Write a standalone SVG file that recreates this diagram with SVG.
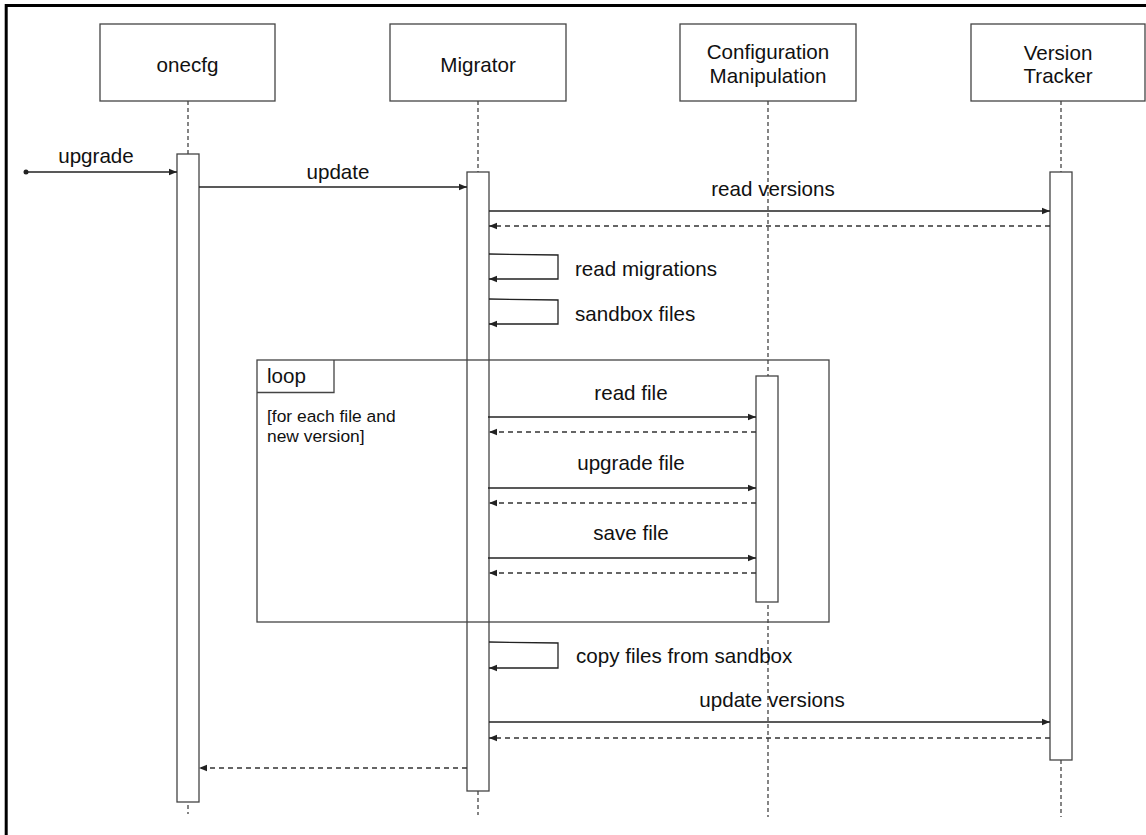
<svg xmlns="http://www.w3.org/2000/svg" width="1146" height="835" viewBox="0 0 1146 835">
  <style>
    .box { fill: #fff; stroke: #444; stroke-width: 1.3; }
    .bar { fill: #fff; stroke: #444; stroke-width: 1.3; }
    .life { stroke: #444; stroke-width: 1.3; stroke-dasharray: 4 3; fill: none; }
    .msg { stroke: #222; stroke-width: 1.3; fill: none; }
    .ret { stroke: #333; stroke-width: 1.3; stroke-dasharray: 5 4; fill: none; }
    .frame { fill: none; stroke: #444; stroke-width: 1.3; }
    text { font-family: "Liberation Sans", Arial, sans-serif; fill: #111; }
    .t20 { font-size: 20.6px; }
    .t17 { font-size: 17.4px; }
    .mid { text-anchor: middle; }
  </style>
  <defs>
    <marker id="ah" viewBox="0 0 10 10" refX="10" refY="5" markerWidth="8" markerHeight="8" markerUnits="userSpaceOnUse" orient="auto">
      <path d="M0,1 L10,5 L0,9 z" fill="#222"/>
    </marker>
  </defs>

  <rect width="1146" height="835" fill="#fff"/>
  <!-- outer border (open at the bottom and right) -->
  <path d="M6.2,835 V5.5 H1146" fill="none" stroke="#000" stroke-width="3"/>

  <!-- lifelines -->
  <g id="lifelines">
    <line class="life" x1="188" y1="101" x2="188" y2="154"/>
    <line class="life" x1="188" y1="805" x2="188" y2="814"/>
    <line class="life" x1="478" y1="101" x2="478" y2="172"/>
    <line class="life" x1="478" y1="791" x2="478" y2="815"/>
    <line class="life" x1="768" y1="101" x2="768" y2="817"/>
    <line class="life" x1="1061" y1="101" x2="1061" y2="172"/>
    <line class="life" x1="1061" y1="760" x2="1061" y2="817"/>
  </g>

  <!-- participants -->
  <g id="onecfg">
    <rect class="box" x="100" y="24" width="175" height="77"/>
    <text class="t20 mid" x="187.5" y="72">onecfg</text>
    <rect class="bar" x="177" y="154" width="22" height="648"/>
  </g>
  <g id="migrator">
    <rect class="box" x="390" y="24" width="176" height="77"/>
    <text class="t20 mid" x="478" y="72">Migrator</text>
    <rect class="bar" x="467" y="172" width="22" height="619"/>
  </g>
  <g id="config-manipulation">
    <rect class="box" x="680" y="24" width="176" height="77"/>
    <text class="t20 mid" x="768" y="59">Configuration</text>
    <text class="t20 mid" x="768" y="83">Manipulation</text>
    <rect class="bar" x="756" y="376" width="22" height="226"/>
  </g>
  <g id="version-tracker">
    <rect class="box" x="971" y="24" width="174" height="77"/>
    <text class="t20 mid" x="1058" y="60">Version</text>
    <text class="t20 mid" x="1058" y="83">Tracker</text>
    <rect class="bar" x="1050" y="172" width="22" height="588"/>
  </g>

  <!-- loop fragment -->
  <g id="loop">
    <rect class="frame" x="257" y="360" width="572" height="262"/>
    <path class="frame" d="M257,392.5 H334 V360"/>
    <text class="t20" x="267" y="383">loop</text>
    <text class="t17" x="267" y="422">[for each file and</text>
    <text class="t17" x="267" y="442">new version]</text>
  </g>

  <!-- messages -->
  <g id="connectors">
    <circle cx="26" cy="172" r="2.5" fill="#222"/>
    <line class="msg" x1="26" y1="172" x2="177" y2="172" marker-end="url(#ah)"/>
    <text class="t20 mid" x="96" y="163">upgrade</text>

    <line class="msg" x1="199" y1="187" x2="467" y2="187" marker-end="url(#ah)"/>
    <text class="t20 mid" x="338" y="179">update</text>

    <line class="msg" x1="489" y1="211" x2="1050" y2="211" marker-end="url(#ah)"/>
    <text class="t20 mid" x="773" y="196">read versions</text>
    <line class="ret" x1="1050" y1="226" x2="489" y2="226" marker-end="url(#ah)"/>

    <path class="msg" d="M489,254 L558,255 V279 H489" marker-end="url(#ah)"/>
    <text class="t20" x="575" y="276">read migrations</text>

    <path class="msg" d="M489,299 L558,300 V324 H489" marker-end="url(#ah)"/>
    <text class="t20" x="575" y="321">sandbox files</text>

    <line class="msg" x1="488" y1="417" x2="756" y2="417" marker-end="url(#ah)"/>
    <text class="t20 mid" x="631" y="400">read file</text>
    <line class="ret" x1="756" y1="432" x2="489" y2="432" marker-end="url(#ah)"/>

    <line class="msg" x1="488" y1="488" x2="756" y2="488" marker-end="url(#ah)"/>
    <text class="t20 mid" x="631" y="470">upgrade file</text>
    <line class="ret" x1="756" y1="503" x2="489" y2="503" marker-end="url(#ah)"/>

    <line class="msg" x1="488" y1="558" x2="756" y2="558" marker-end="url(#ah)"/>
    <text class="t20 mid" x="631" y="540">save file</text>
    <line class="ret" x1="756" y1="573" x2="489" y2="573" marker-end="url(#ah)"/>

    <path class="msg" d="M489,642 L558,643 V668 H489" marker-end="url(#ah)"/>
    <text class="t20" x="576" y="663">copy files from sandbox</text>

    <line class="msg" x1="489" y1="722" x2="1050" y2="722" marker-end="url(#ah)"/>
    <text class="t20 mid" x="772" y="707">update versions</text>
    <line class="ret" x1="1050" y1="738" x2="489" y2="738" marker-end="url(#ah)"/>

    <line class="ret" x1="467" y1="768" x2="199" y2="768" marker-end="url(#ah)"/>
  </g>
</svg>
